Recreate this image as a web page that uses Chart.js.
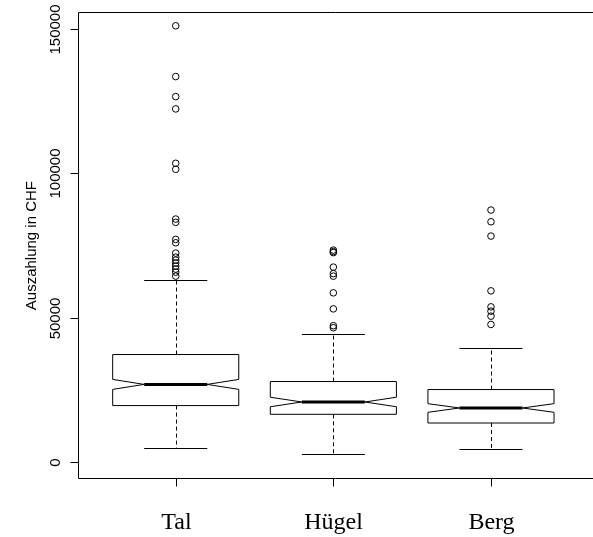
<!DOCTYPE html>
<html>
<head>
<meta charset="utf-8">
<script src="https://cdn.jsdelivr.net/npm/chart.js@4"></script>
<style>
    html, body { margin: 0; padding: 0; background: #fff; }
</style>
</head>
<body>
<canvas id="chart-box" width="593" height="537"></canvas>
<script>
// Notched boxplot of payouts per zone
const categories = ['Tal', 'Hügel', 'Berg'];
const whiskerLow = [4790, 2850, 4340];
const q1 = [19510, 16490, 13470];
const medians = [26860, 20760, 18680];
const q3 = [37220, 27850, 25070];
const whiskerHigh = [63020, 44370, 39650];
const notchHalf = [1730, 1650, 1500];

const outliersTal = [151210, 133600, 126660, 122390, 103530, 101450, 84200, 83050, 77150, 75970,
    72390, 71000, 69960, 68920, 67880, 66830, 65790, 64400];
const outliersHuegel = [73430, 72900, 72560, 67530, 65270, 64400, 58610, 53050, 47220, 46520];
const outliersBerg = [87320, 83260, 78290, 59300, 53750, 52250, 50520, 47640];

const yTicks = [0, 50000, 100000, 150000];
const axisTitle = 'Auszahlung in CHF';

const outlierSets = [outliersTal, outliersHuegel, outliersBerg];

const boxPlugin = {
    id: 'notchedBoxes',
    beforeDatasetsDraw(chart) {
        const ctx = chart.ctx;
        const xs = chart.scales.x;
        const ys = chart.scales.y;
        const px = v => xs.getPixelForValue(v);
        const py = v => ys.getPixelForValue(v);
        ctx.save();
        ctx.strokeStyle = '#000';
        categories.forEach((name, i) => {
            const c = i + 1;
            const xl = px(c - 0.4), xr = px(c + 0.4);
            const nl = px(c - 0.2), nr = px(c + 0.2);
            const xc = Math.round(px(c)) + 0.5;
            const nLo = py(medians[i] - notchHalf[i]);
            const nHi = py(medians[i] + notchHalf[i]);
            const med = py(medians[i]);

            // whiskers
            ctx.lineWidth = 1;
            ctx.setLineDash([4, 3]);
            ctx.beginPath();
            ctx.moveTo(xc, py(q3[i]));
            ctx.lineTo(xc, py(whiskerHigh[i]));
            ctx.moveTo(xc, py(q1[i]));
            ctx.lineTo(xc, py(whiskerLow[i]));
            ctx.stroke();
            ctx.setLineDash([]);
            ctx.beginPath();
            const wh = Math.round(py(whiskerHigh[i])) + 0.5;
            const wl = Math.round(py(whiskerLow[i])) + 0.5;
            ctx.moveTo(nl, wh); ctx.lineTo(nr, wh);
            ctx.moveTo(nl, wl); ctx.lineTo(nr, wl);
            ctx.stroke();

            // notched box
            ctx.beginPath();
            ctx.moveTo(xl, py(q1[i]));
            ctx.lineTo(xl, nLo);
            ctx.lineTo(nl, med);
            ctx.lineTo(xl, nHi);
            ctx.lineTo(xl, py(q3[i]));
            ctx.lineTo(xr, py(q3[i]));
            ctx.lineTo(xr, nHi);
            ctx.lineTo(nr, med);
            ctx.lineTo(xr, nLo);
            ctx.lineTo(xr, py(q1[i]));
            ctx.closePath();
            ctx.fillStyle = '#fff';
            ctx.fill();
            ctx.stroke();

            // median
            ctx.lineWidth = 3;
            ctx.beginPath();
            ctx.moveTo(nl, med);
            ctx.lineTo(nr, med);
            ctx.stroke();
        });
        ctx.restore();
    },
    afterDraw(chart) {
        const ctx = chart.ctx;
        const area = chart.chartArea;
        const xs = chart.scales.x;
        const ys = chart.scales.y;
        const left = Math.round(area.left) + 0.5;
        const top = Math.round(area.top) + 0.5;
        const bottom = Math.round(area.bottom) + 0.5;
        ctx.save();
        ctx.strokeStyle = '#000';
        ctx.lineWidth = 1;
        // frame runs past the right edge of the picture
        ctx.beginPath();
        ctx.moveTo(chart.width, top);
        ctx.lineTo(left, top);
        ctx.lineTo(left, bottom);
        ctx.lineTo(chart.width, bottom);
        ctx.stroke();

        // y axis ticks and labels
        ctx.fillStyle = '#000';
        ctx.font = '15px "Liberation Sans", Arial, sans-serif';
        ctx.textAlign = 'center';
        ctx.textBaseline = 'middle';
        yTicks.forEach(t => {
            const y = Math.round(ys.getPixelForValue(t)) + 0.5;
            ctx.beginPath();
            ctx.moveTo(left, y);
            ctx.lineTo(left - 8, y);
            ctx.stroke();
            ctx.save();
            ctx.translate(56, y);
            ctx.rotate(-Math.PI / 2);
            ctx.fillText(String(t), 0, 0);
            ctx.restore();
        });
        ctx.save();
        ctx.translate(32, ys.getPixelForValue(75000));
        ctx.rotate(-Math.PI / 2);
        ctx.fillText(axisTitle, 0, 0);
        ctx.restore();

        // x axis ticks and category labels
        ctx.font = '24px "Liberation Serif", "Times New Roman", serif';
        ctx.textBaseline = 'alphabetic';
        categories.forEach((name, i) => {
            const x = Math.round(xs.getPixelForValue(i + 1)) + 0.5;
            ctx.beginPath();
            ctx.moveTo(x, bottom);
            ctx.lineTo(x, bottom + 8);
            ctx.stroke();
            ctx.fillText(name, x, 529);
        });
        ctx.restore();
    },
};

function createBoxChart() {
    const canvas = document.getElementById('chart-box');
    const ctx = canvas.getContext('2d');
    new Chart(ctx, {
        type: 'scatter',
        data: {
            datasets: outlierSets.map((set, i) => ({
                label: categories[i],
                data: set.map(v => ({ x: i + 1, y: v })),
                pointStyle: 'circle',
                pointRadius: 3.3,
                pointHoverRadius: 3.3,
                backgroundColor: 'rgba(0,0,0,0)',
                borderColor: '#000',
                borderWidth: 1,
            })),
        },
        options: {
            responsive: false,
            animation: false,
            events: [],
            layout: { padding: { left: 78, top: 12, right: 0, bottom: 59 } },
            scales: {
                x: { type: 'linear', min: 0.38, max: 3.62, display: false },
                y: { type: 'linear', min: -5600, max: 156000, display: false },
            },
            plugins: {
                legend: { display: false },
                tooltip: { enabled: false },
            },
        },
        plugins: [boxPlugin],
    });
}

createBoxChart();
</script>
</body>
</html>
